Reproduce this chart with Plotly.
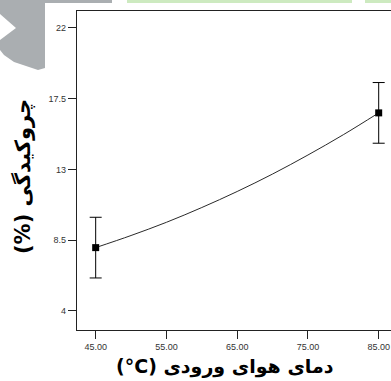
import plotly.graph_objects as go

# Measured shrinkage at the two inlet-air temperatures
temps = [45, 85]
shrinkage = [8.03, 16.6]
shrinkage_err = [1.93, 1.93]

# Fitted response curve across the temperature range
curve_temps = [45, 50, 55, 60, 65, 70, 75, 80, 85]
curve_shrinkage = [8.03, 8.80, 9.64, 10.58, 11.6, 12.71, 13.92, 15.21, 16.6]

x_ticks = [45, 55, 65, 75, 85]
x_tick_labels = ["45.00", "55.00", "65.00", "75.00", "85.00"]
y_ticks = [4, 8.5, 13, 17.5, 22]
y_tick_labels = ["4", "8.5", "13", "17.5", "22"]

W, H = 391, 381
ML, MT, MB, MR = 77, 11, 51, 0
PW, PH = W - ML - MR, H - MT - MB


def to_paper(px, py):
    return (px - ML) / PW, (H - MB - py) / PH


def path_from(points):
    pts = [to_paper(x, y) for x, y in points]
    d = "M " + " L ".join(f"{x:.4f},{y:.4f}" for x, y in pts) + " Z"
    return d


fig = go.Figure()

fig.add_trace(go.Scatter(
    x=curve_temps, y=curve_shrinkage, mode="lines",
    line=dict(color="#2a2a2a", width=1, shape="spline"),
    hoverinfo="skip", showlegend=False,
))
fig.add_trace(go.Scatter(
    x=temps, y=shrinkage, mode="markers",
    marker=dict(symbol="square", size=7, color="black"),
    error_y=dict(type="data", array=shrinkage_err, visible=True,
                 color="black", thickness=1, width=6),
    showlegend=False,
))

# Page decoration around the chart
gray_poly = [(0, 0), (112, 0), (112, 3), (45, 3), (45, 68), (38, 70),
             (14, 62), (4, 55), (0, 50), (0, 40), (16, 28), (0, 14)]
shapes = [
    dict(type="path", xref="paper", yref="paper", path=path_from(gray_poly),
         fillcolor="#aaaeb1", line=dict(width=0), layer="below"),
]
for x0, x1 in [(127, 352), (365, 391)]:
    a = to_paper(x0, 0)
    b = to_paper(x1, 3)
    shapes.append(dict(type="rect", xref="paper", yref="paper",
                       x0=a[0], y0=a[1], x1=b[0], y1=b[1],
                       fillcolor="#cdeac0", line=dict(width=0), layer="below"))

xt = to_paper(225, 366)
yt = to_paper(22, 177)

fig.update_layout(
    width=W, height=H,
    margin=dict(l=ML, r=MR, t=MT, b=MB, pad=0),
    paper_bgcolor="white", plot_bgcolor="white",
    shapes=shapes,
    annotations=[
        dict(text="<b>(°C) دمای هوای ورودی</b>", xref="paper", yref="paper",
             x=xt[0], y=xt[1], xanchor="center", yanchor="middle",
             showarrow=False, font=dict(family="DejaVu Sans", size=19, color="black")),
        dict(text="<b>(%) چروکیدگی</b>", xref="paper", yref="paper",
             x=yt[0], y=yt[1], xanchor="center", yanchor="middle", textangle=-90,
             showarrow=False, font=dict(family="DejaVu Sans", size=21, color="black")),
    ],
    xaxis=dict(
        range=[42.36, 86.74], tickvals=x_ticks, ticktext=x_tick_labels,
        showgrid=False, zeroline=False, showline=True, mirror=True,
        linecolor="#222", linewidth=1.2, ticks="outside", ticklen=8,
        tickcolor="#222", tickwidth=1,
        tickfont=dict(family="Arial, Liberation Sans", size=9, color="#333"),
    ),
    yaxis=dict(
        range=[2.79, 23.08], tickvals=y_ticks, ticktext=y_tick_labels,
        showgrid=False, zeroline=False, showline=True, mirror=False,
        linecolor="#222", linewidth=1.2, ticks="outside", ticklen=8,
        tickcolor="#222", tickwidth=1,
        tickfont=dict(family="Arial, Liberation Sans", size=9, color="#333"),
    ),
)

fig.write_html("out.html")
